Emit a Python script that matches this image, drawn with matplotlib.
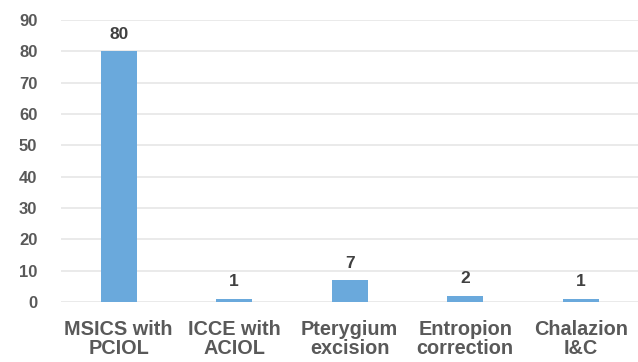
import matplotlib.pyplot as plt

categories = ["MSICS with\nPCIOL", "ICCE with\nACIOL", "Pterygium\nexcision",
              "Entropion\ncorrection", "Chalazion\nI&C"]
counts = [80, 1, 7, 2, 1]
yticks = list(range(0, 100, 10))

plt.rcParams['font.family'] = ['Liberation Sans', 'DejaVu Sans']
plt.rcParams['font.weight'] = 'bold'

fig = plt.figure(figsize=(6.38, 3.62), dpi=100)
ax = fig.add_axes([0.0956, 0.166, 0.905, 0.779])

x = range(len(categories))
bars = ax.bar(x, counts, width=0.31, color="#6aa9dc", zorder=3)
for b, v in zip(bars, counts):
    ax.text(b.get_x() + b.get_width() / 2, v + 3, str(v), ha="center", va="bottom",
            fontsize=12.5, color="#404040", fontweight="bold")

ax.set_xlim(-0.5, len(categories) - 0.5)
ax.set_ylim(0, 90)
ax.set_yticks(yticks)
ax.set_xticks(list(x))
ax.set_xticklabels(categories, fontsize=14.3, color="#595959", linespacing=1.0)
ax.tick_params(axis="y", labelsize=12, labelcolor="#595959", length=0, pad=17)
ax.tick_params(axis="x", length=0, pad=13)
ax.grid(axis="y", color="#e6e6e6", linewidth=1.2, zorder=0)
for s in ax.spines.values():
    s.set_visible(False)

fig.savefig("out.png", dpi=100)
